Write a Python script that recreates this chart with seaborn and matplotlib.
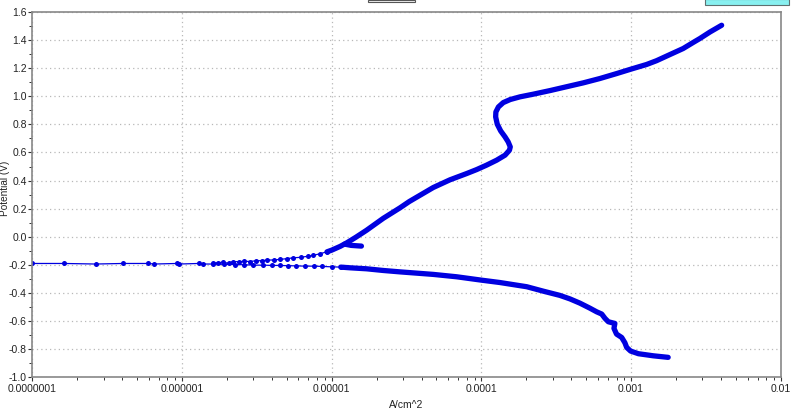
import matplotlib
matplotlib.use("Agg")
import matplotlib.pyplot as plt
import matplotlib.ticker as mticker
from matplotlib.patches import Rectangle
import seaborn as sns
import pandas as pd

# cathodic branch, dense part (A/cm^2, V), from high current down to Ecorr
cath_i = [1.77e-3, 1.41e-3, 1.12e-3, 9.93e-4, 9.35e-4, 9.1e-4, 8.66e-4, 8.0e-4, 7.69e-4, 7.8e-4,
          7.05e-4, 6.7e-4, 6.37e-4, 5.89e-4, 5.31e-4, 4.55e-4, 3.91e-4, 3.35e-4, 2.6e-4, 2.01e-4,
          1.33e-4, 1.0e-4, 6.84e-5, 4.77e-5, 2.86e-5, 2.21e-5, 1.71e-5, 1.33e-5, 1.15e-5]
cath_e = [-0.862, -0.851, -0.836, -0.817, -0.791, -0.758, -0.72, -0.696, -0.655, -0.62,
          -0.608, -0.584, -0.553, -0.537, -0.511, -0.475, -0.445, -0.42, -0.39, -0.358,
          -0.328, -0.311, -0.287, -0.27, -0.252, -0.242, -0.23, -0.223, -0.218]

# sparse points near Ecorr, lower side
low_i = [1.15e-5, 1.0e-5, 8.6e-6, 7.6e-6, 6.6e-6, 5.8e-6, 5.1e-6, 4.5e-6, 4.0e-6, 3.5e-6, 3.0e-6,
         2.6e-6, 2.25e-6, 1.9e-6, 1.6e-6, 1.39e-6, 1.29e-6, 9.6e-7, 9.22e-7, 6.53e-7, 5.96e-7,
         4.02e-7, 2.65e-7, 1.64e-7, 1.0e-7]
low_e = [-0.218, -0.216, -0.213, -0.211, -0.211, -0.209, -0.208, -0.206, -0.206, -0.204, -0.204,
         -0.201, -0.2, -0.198, -0.196, -0.196, -0.192, -0.196, -0.192, -0.196, -0.192,
         -0.192, -0.196, -0.192, -0.192]

# sparse points near Ecorr, upper side
up_i = [1.6e-6, 1.75e-6, 1.88e-6, 2.05e-6, 2.2e-6, 2.4e-6, 2.6e-6, 2.85e-6, 3.1e-6, 3.4e-6, 3.7e-6,
        4.1e-6, 4.5e-6, 5.0e-6, 5.5e-6, 6.2e-6, 7.0e-6, 7.5e-6, 8.3e-6, 9.3e-6]
up_e = [-0.19, -0.186, -0.184, -0.19, -0.178, -0.18, -0.176, -0.178, -0.173, -0.172, -0.168,
        -0.167, -0.163, -0.158, -0.152, -0.148, -0.14, -0.135, -0.123, -0.109]

# anodic branch, dense part
an_i = [9.3e-6, 1.0e-5, 1.14e-5, 1.26e-5, 1.45e-5, 1.71e-5, 2.21e-5, 2.86e-5, 3.3e-5, 4.77e-5,
        6.17e-5, 7.99e-5, 9.3e-5, 1.08e-4, 1.265e-4, 1.44e-4, 1.54e-4, 1.56e-4, 1.51e-4, 1.44e-4,
        1.346e-4, 1.277e-4, 1.246e-4, 1.25e-4, 1.30e-4, 1.40e-4, 1.56e-4, 1.81e-4, 2.22e-4, 2.88e-4,
        4.8e-4, 6.2e-4, 8.0e-4, 1.0e-3, 1.27e-3, 1.48e-3, 1.82e-3, 2.23e-3, 2.6e-3, 2.88e-3,
        3.37e-3, 4.03e-3]
an_e = [-0.109, -0.097, -0.07, -0.045, -0.005, 0.045, 0.13, 0.205, 0.25, 0.35,
        0.405, 0.45, 0.478, 0.509, 0.545, 0.581, 0.616, 0.64, 0.676, 0.711,
        0.754, 0.802, 0.854, 0.889, 0.925, 0.956, 0.978, 0.997, 1.016, 1.042,
        1.097, 1.128, 1.163, 1.195, 1.228, 1.255, 1.299, 1.342, 1.385, 1.413,
        1.46, 1.508]

# short stub off the anodic branch
stub_i = [1.22e-5, 1.35e-5, 1.48e-5, 1.58e-5]
stub_e = [-0.054, -0.063, -0.066, -0.068]

xticks = [1e-7, 1e-6, 1e-5, 1e-4, 1e-3, 1e-2]
xtick_labels = ["0.0000001", "0.000001", "0.00001", "0.0001", "0.001", "0.01"]

sns.set_style("white")
plt.rcParams["font.family"] = ["Liberation Sans", "DejaVu Sans"]

blue = "#0000e0"
fig = plt.figure(figsize=(8, 4.12), dpi=100)
ax = fig.add_axes([0.0404, 0.0857, 0.9355, 0.8843])

dense = [(cath_i, cath_e), (an_i, an_e), (stub_i, stub_e)]
for xs, ys in dense:
    df = pd.DataFrame({"i": xs, "E": ys})
    sns.lineplot(data=df, x="i", y="E", sort=False, estimator=None, ax=ax,
                 color=blue, linewidth=3.8, solid_capstyle="round", solid_joinstyle="round")

sparse = [(low_i, low_e), (up_i, up_e)]
for xs, ys in sparse:
    df = pd.DataFrame({"i": xs, "E": ys})
    sns.lineplot(data=df, x="i", y="E", sort=False, estimator=None, ax=ax,
                 color=blue, linewidth=0.9, marker="o", markersize=3.6,
                 markeredgewidth=0)

ax.set_xscale("log")
ax.set_xlim(1e-7, 1e-2)
ax.set_ylim(-1.0, 1.6)
ax.set_xticks(xticks)
ax.set_xticklabels(xtick_labels)
ax.xaxis.set_minor_locator(mticker.LogLocator(base=10, subs=range(2, 10), numticks=20))
ax.xaxis.set_minor_formatter(mticker.NullFormatter())
ax.yaxis.set_major_locator(mticker.MultipleLocator(0.2))
ax.yaxis.set_minor_locator(mticker.MultipleLocator(0.1))
ax.yaxis.set_major_formatter(mticker.FormatStrFormatter("%.1f"))

ax.grid(True, which="major", color="#b8b8b8", linestyle=(0, (1, 2.5)), linewidth=0.9)
ax.tick_params(which="major", direction="out", length=3, width=0.8, color="#333333",
               labelsize=7.5, labelcolor="#222222", bottom=True, left=True, pad=2)
ax.tick_params(which="minor", direction="out", length=2.5, width=0.7, color="#333333",
               bottom=True, left=True)
ax.tick_params(axis="y", which="major", pad=1)
for s in ax.spines.values():
    s.set_color("#888888")
    s.set_linewidth(1.2)

ax.set_xlabel("A/cm^2", fontsize=7.5, color="#222222", va="center")
ax.xaxis.set_label_coords(0.5, -0.078)
ax.set_ylabel("Potential (V)", fontsize=7.2, color="#222222", va="center")
ax.yaxis.set_label_coords(-0.037, 0.518)

# bits of the window chrome cut off at the top
fig.patches.append(Rectangle((368 / 800, 1 - 2 / 412), 47 / 800, 2 / 412, transform=fig.transFigure,
                             facecolor="#f4f4f4", edgecolor="#555555", linewidth=0.8))
fig.patches.append(Rectangle((705 / 800, 1 - 5 / 412), 84 / 800, 6 / 412, transform=fig.transFigure,
                             facecolor="#88f0f0", edgecolor="#607070", linewidth=0.8))

fig.savefig("out.png", dpi=100)
plt.close(fig)
